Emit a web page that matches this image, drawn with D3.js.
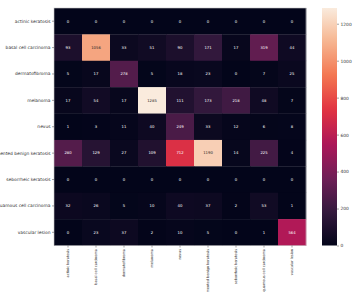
<!DOCTYPE html>
<html><head><meta charset="utf-8">
<script src="https://cdn.jsdelivr.net/npm/d3@7"></script>
<style>html,body{margin:0;padding:0;background:#fff;}svg{display:block;}</style>
</head><body>
<svg id="chart" width="357" height="292"></svg>
<script>
const classes = ["actinic keratosis","basal cell carcinoma","dermatofibroma","melanoma","nevus","pigmented benign keratosis","seborrheic keratosis","squamous cell carcinoma","vascular lesion"];
const values = [
  [0,0,0,0,0,0,0,0,0],
  [93,1056,33,51,90,171,17,319,44],
  [5,17,278,5,18,23,0,7,25],
  [17,54,17,1285,111,173,218,48,7],
  [1,3,11,40,249,33,12,6,8],
  [280,129,27,109,712,1190,14,225,4],
  [0,0,0,0,0,0,0,0,0],
  [32,26,5,10,40,37,2,53,1],
  [0,23,37,2,10,5,0,1,564]
];
const colorTicks = [0,200,400,600,800,1000,1200];
const rocketStops = ["#03051a","#35193e","#701f57","#ad1759","#e13342","#f37651","#f6b48f","#faebdd"];

const svg = d3.select("#chart");
const hm = {x0:54, x1:306, y0:8, y1:245.5};
const x = d3.scaleBand().domain(classes).range([hm.x0, hm.x1]);
const y = d3.scaleBand().domain(classes).range([hm.y0, hm.y1]);
const vmax = d3.max(values.flat());
const color = d3.scaleLinear()
  .domain(rocketStops.map((_, i) => vmax * i / (rocketStops.length - 1)))
  .range(rocketStops).interpolate(d3.interpolateRgb).clamp(true);

const cells = [];
values.forEach((row, i) => row.forEach((v, j) => cells.push({r: classes[i], c: classes[j], v})));

function lum(c){
  const rgb = d3.rgb(c);
  const f = u => { u/=255; return u <= 0.03928 ? u/12.92 : Math.pow((u+0.055)/1.055, 2.4); };
  return 0.2126*f(rgb.r)+0.7152*f(rgb.g)+0.0722*f(rgb.b);
}

svg.append("g").selectAll("rect").data(cells).join("rect")
  .attr("x", d => x(d.c)).attr("y", d => y(d.r))
  .attr("width", x.bandwidth()+0.3).attr("height", y.bandwidth()+0.3)
  .attr("fill", d => color(d.v));

svg.append("g").selectAll("text").data(cells).join("text")
  .attr("x", d => x(d.c) + x.bandwidth()/2)
  .attr("y", d => y(d.r) + y.bandwidth()/2)
  .attr("dy", "0.35em").attr("text-anchor", "middle")
  .attr("font-family", "DejaVu Sans, sans-serif").attr("font-size", 3.8)
  .attr("fill", d => lum(color(d.v)) > 0.408 ? "#262626" : "#ffffff")
  .text(d => d.v);

// frame
svg.append("rect").attr("x", hm.x0).attr("y", hm.y0)
  .attr("width", hm.x1-hm.x0).attr("height", hm.y1-hm.y0)
  .attr("fill", "none").attr("stroke", "#c8c8c8").attr("stroke-width", 0.6);

// axes
const yAxis = svg.append("g").attr("transform", `translate(${hm.x0},0)`)
  .call(d3.axisLeft(y).tickSize(2).tickPadding(1.5));
const xAxis = svg.append("g").attr("transform", `translate(0,${hm.y1})`)
  .call(d3.axisBottom(x).tickSize(2).tickPadding(1.5));
[yAxis, xAxis].forEach(a => {
  a.select(".domain").remove();
  a.selectAll("line").attr("stroke", "#444").attr("stroke-width", 0.5);
  a.selectAll("text").attr("font-family", "DejaVu Sans, sans-serif").attr("font-size", 4.4).attr("fill", "#333");
});
xAxis.selectAll("text")
  .attr("font-size", 3.5)
  .attr("transform", "rotate(-90)")
  .attr("text-anchor", "end")
  .attr("x", -3.5).attr("y", 0).attr("dy", "0.35em");

// colorbar
const cb = {x:322, w:15, y0:8, y1:245.5};
const defs = svg.append("defs");
const grad = defs.append("linearGradient").attr("id","cbg").attr("x1",0).attr("y1",1).attr("x2",0).attr("y2",0);
d3.range(0, 1.0001, 0.02).forEach(t => grad.append("stop").attr("offset", t).attr("stop-color", color(t*vmax)));
svg.append("rect").attr("x", cb.x).attr("y", cb.y0).attr("width", cb.w).attr("height", cb.y1-cb.y0).attr("fill", "url(#cbg)");
const cy = d3.scaleLinear().domain([0, vmax]).range([cb.y1, cb.y0]);
const cAxis = svg.append("g").attr("transform", `translate(${cb.x+cb.w},0)`)
  .call(d3.axisRight(cy).tickValues(colorTicks).tickFormat(d3.format("d")).tickSize(2).tickPadding(1.5));
cAxis.select(".domain").remove();
cAxis.selectAll("line").attr("stroke", "#444").attr("stroke-width", 0.5);
cAxis.selectAll("text").attr("font-family", "DejaVu Sans, sans-serif").attr("font-size", 4.4).attr("fill", "#333");
</script>
</body></html>
